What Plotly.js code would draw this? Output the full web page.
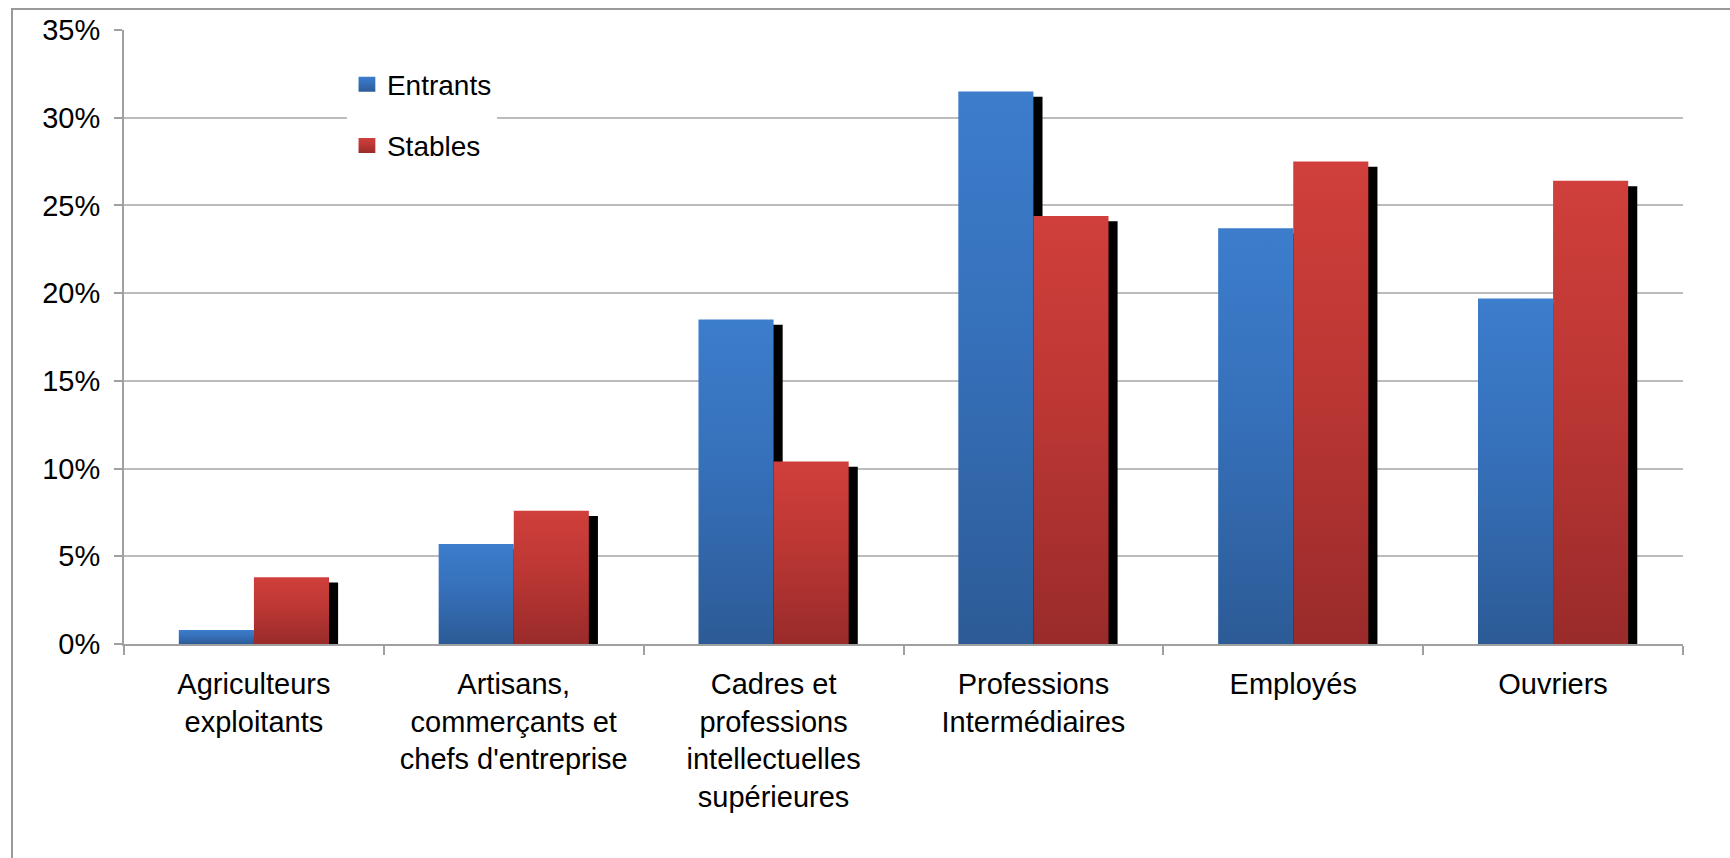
<!DOCTYPE html>
<html>
<head>
<meta charset="utf-8">
<script src="https://cdn.plot.ly/plotly-3.0.1.min.js"></script>
<style>
  html, body { margin: 0; padding: 0; background: #fff; }
  #wrap { position: relative; width: 1730px; height: 858px; overflow: hidden; }
  #chart { position: absolute; left: 0; top: 0; width: 1730px; height: 858px; }
  #frame { position: absolute; left: 11px; top: 8px; width: 1730px; height: 900px;
           border-left: 2px solid #9a9a9a; border-top: 2px solid #9a9a9a; pointer-events: none; }
</style>
</head>
<body>
<svg width="0" height="0" style="position:absolute">
  <defs>
    <linearGradient id="gBlue" x1="0" y1="0" x2="0" y2="1">
      <stop offset="0" stop-color="#3C7DCC"/>
      <stop offset="0.45" stop-color="#3670BA"/>
      <stop offset="1" stop-color="#2C5B96"/>
    </linearGradient>
    <linearGradient id="gRed" x1="0" y1="0" x2="0" y2="1">
      <stop offset="0" stop-color="#D03F3B"/>
      <stop offset="0.45" stop-color="#BC3734"/>
      <stop offset="1" stop-color="#992B2A"/>
    </linearGradient>
  </defs>
</svg>
<div id="wrap">
  <div id="chart"></div>
  <div id="frame"></div>
</div>
<script>
// ---- Data ----
const categories = [
  "Agriculteurs<br>exploitants",
  "Artisans,<br>commerçants et<br>chefs d'entreprise",
  "Cadres et<br>professions<br>intellectuelles<br>supérieures",
  "Professions<br>Intermédiaires",
  "Employés",
  "Ouvriers"
];
const seriesNames = ["Entrants", "Stables"];
const entrants = [0.8, 5.7, 18.5, 31.5, 23.7, 19.7];
const stables  = [3.8, 7.6, 10.4, 24.4, 27.5, 26.4];
const yTickVals = [0, 5, 10, 15, 20, 25, 30, 35];

// ---- Style ----
const BAR_W = 0.289;
const SH_DX = 0.035;   // shadow offset (category units)
const SH_DY = 0.3;     // shadow drop (value units)
const FONT = "Liberation Sans, Arial, sans-serif";
const xIdx = categories.map((_, i) => i);
const shadow = v => v.map(d => Math.max(d - SH_DY, 0));

const traces = [
  { type: "bar", x: xIdx, y: shadow(entrants), offset: -BAR_W + SH_DX, width: BAR_W,
    marker: { color: "#000" }, showlegend: false, hoverinfo: "skip" },
  { type: "bar", x: xIdx, y: shadow(stables), offset: SH_DX, width: BAR_W,
    marker: { color: "#000" }, showlegend: false, hoverinfo: "skip" },
  { type: "bar", name: seriesNames[0], x: xIdx, y: entrants, offset: -BAR_W, width: BAR_W,
    marker: { color: "#3670BA" }, legendgroup: "a" },
  { type: "bar", name: seriesNames[1], x: xIdx, y: stables, offset: 0, width: BAR_W,
    marker: { color: "#BC3734" }, legendgroup: "b" }
];

const layout = {
  width: 1730, height: 858,
  margin: { l: 124, r: 47, t: 30, b: 214, pad: 0 },
  paper_bgcolor: "#fff", plot_bgcolor: "#fff",
  barmode: "overlay",
  font: { family: FONT, size: 29, color: "#000" },
  xaxis: {
    type: "linear", range: [-0.5, 5.5],
    tickmode: "array", tickvals: xIdx, ticktext: categories,
    showgrid: false, zeroline: false,
    showline: true, linecolor: "#a0a0a0", linewidth: 2,
    ticks: "", ticklabelstandoff: 13,
    tickfont: { family: FONT, size: 29, color: "#000" },
    minor: { tickmode: "array", tickvals: [-0.5, 0.5, 1.5, 2.5, 3.5, 4.5, 5.5],
             ticks: "outside", ticklen: 9, tickcolor: "#a0a0a0", tickwidth: 2, showgrid: false }
  },
  yaxis: {
    range: [0, 35], tickmode: "array", tickvals: yTickVals,
    ticktext: yTickVals.map(v => v + "%"),
    showgrid: true, gridcolor: "#bcbcbc", gridwidth: 2,
    zeroline: false, showline: true, linecolor: "#a0a0a0", linewidth: 2,
    ticks: "outside", ticklen: 8, tickcolor: "#a0a0a0", tickwidth: 2,
    ticklabelstandoff: 8,
    tickfont: { family: FONT, size: 29, color: "#000" }
  },
  legend: {
    x: 0.143, xanchor: "left", y: 0.952, yanchor: "top",
    bgcolor: "#fff", borderwidth: 0,
    font: { family: FONT, size: 28, color: "#000" },
    tracegroupgap: 22, traceorder: "grouped",
    itemclick: false, itemdoubleclick: false
  },
  showlegend: true
};

Plotly.newPlot("chart", traces, layout, { displayModeBar: false, staticPlot: true }).then(gd => {
  const grads = ["url(#gBlue)", "url(#gRed)"];
  const barTraces = gd.querySelectorAll(".barlayer .trace");
  [2, 3].forEach((ti, k) => {
    if (!barTraces[ti]) return;
    barTraces[ti].querySelectorAll("path").forEach(p => { p.style.fill = grads[k]; });
  });
  gd.querySelectorAll(".legend .traces").forEach((t, k) => {
    t.querySelectorAll(".legendpoints path").forEach(p => {
      p.style.fill = grads[k] || p.style.fill;
      const tr = p.getAttribute("transform") || "";
      p.setAttribute("transform", tr + " scale(1.4,1.25)");
    });
  });
});
</script>
</body>
</html>
